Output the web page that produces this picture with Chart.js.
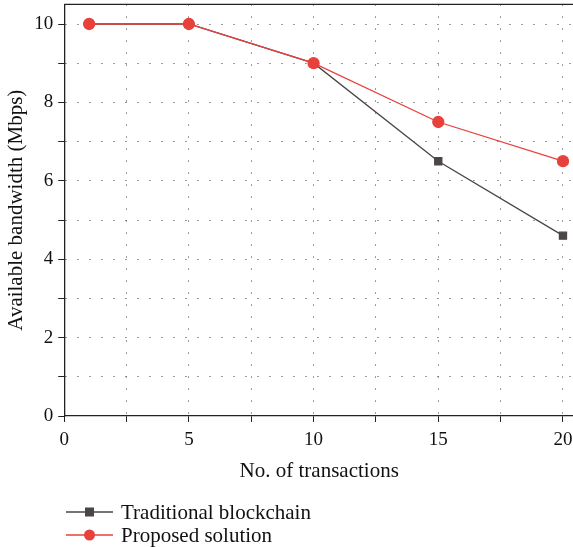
<!DOCTYPE html>
<html>
<head>
<meta charset="utf-8">
<script src="https://cdn.jsdelivr.net/npm/chart.js@4/dist/chart.umd.min.js"></script>
<style>
  html, body { margin: 0; padding: 0; background: #fff; overflow: hidden; }
  #wrap { width: 581px; height: 559px; position: relative; margin-top: -12px; }
</style>
</head>
<body>
<div id="wrap"><canvas id="chart"></canvas></div>
<script>
// data
var transactions = [1, 5, 10, 15, 20];
var traditional = [10, 10, 9, 6.5, 4.6];
var proposed = [10, 10, 9, 7.5, 6.5];
var seriesNames = ["Traditional blockchain", "Proposed solution"];
var xTickLabels = [0, 5, 10, 15, 20];
var yTickLabels = [0, 2, 4, 6, 8, 10];

var serif = "'Liberation Serif', 'DejaVu Serif', serif";
var grey = "#4a4546";
var red = "#e8413c";
var shiftY = 12; // canvas is pulled up by this much

function toPoints(ys) {
  return transactions.map(function (x, i) { return { x: x, y: ys[i] }; });
}

// box on top/right + legend drawn under the axes
var extras = {
  id: "extras",
  afterDraw: function (chart) {
    var ctx = chart.ctx;
    var a = chart.chartArea;
    ctx.save();
    ctx.strokeStyle = "#222";
    ctx.lineWidth = 1.3;
    ctx.beginPath();
    ctx.moveTo(a.left, a.top);
    ctx.lineTo(a.right, a.top);
    ctx.lineTo(a.right, a.bottom);
    ctx.stroke();

    // legend
    var items = [
      { ds: chart.data.datasets[1], y: 512 + shiftY },
      { ds: chart.data.datasets[0], y: 535 + shiftY }
    ];
    items.forEach(function (it) {
      var ds = it.ds;
      ctx.strokeStyle = ds.borderColor;
      ctx.lineWidth = 1.3;
      ctx.beginPath();
      ctx.moveTo(66, it.y);
      ctx.lineTo(113, it.y);
      ctx.stroke();
      ctx.fillStyle = ds.pointBackgroundColor;
      if (ds.pointStyle === "rect") {
        ctx.fillRect(89.5 - 4.5, it.y - 4.5, 9, 9);
      } else {
        ctx.beginPath();
        ctx.arc(89.5, it.y, 5.5, 0, Math.PI * 2);
        ctx.fill();
      }
      ctx.fillStyle = "#111";
      ctx.font = "21px " + serif;
      ctx.textBaseline = "middle";
      ctx.fillText(ds.label, 121, it.y + 1);
    });
    ctx.restore();
  }
};

var ctx = document.getElementById("chart").getContext("2d");
var chart = new Chart(ctx, {
  type: "line",
  data: {
    datasets: [
      {
        label: seriesNames[1],
        data: toPoints(proposed),
        borderColor: red,
        backgroundColor: red,
        pointBackgroundColor: red,
        pointBorderColor: red,
        pointStyle: "circle",
        pointRadius: 5.5,
        borderWidth: 1.3,
        order: 1
      },
      {
        label: seriesNames[0],
        data: toPoints(traditional),
        borderColor: grey,
        backgroundColor: grey,
        pointBackgroundColor: grey,
        pointBorderColor: grey,
        pointStyle: "rect",
        pointRadius: 5,
        borderWidth: 1.3,
        order: 2
      }
    ]
  },
  options: {
    responsive: true,
    maintainAspectRatio: false,
    animation: false,
    layout: { padding: { top: 0, right: 0, bottom: 63, left: 4 } },
    plugins: {
      legend: { display: false },
      tooltip: { enabled: false }
    },
    scales: {
      x: {
        type: "linear",
        min: 0,
        max: 20.45,
        afterBuildTicks: function (scale) {
          var t = [];
          for (var v = 0; v <= 20; v += 2.5) t.push({ value: v });
          scale.ticks = t;
        },
        ticks: {
          autoSkip: false,
          maxRotation: 0,
          color: "#111",
          padding: 7,
          font: { family: serif, size: 19 },
          callback: function (v) { return xTickLabels.indexOf(v) >= 0 ? String(v) : ""; }
        },
        grid: {
          color: function (c) { return c.tick && c.tick.value === 0 ? "rgba(0,0,0,0)" : "#666"; },
          tickColor: "#222",
          tickLength: 6,
          tickBorderDash: []
        },
        border: { color: "#222", width: 1.3, dash: [1.3, 10.7] },
        title: {
          display: true,
          text: "No. of transactions",
          color: "#111",
          font: { family: serif, size: 21 },
          padding: { top: 0, bottom: 0 }
        }
      },
      y: {
        min: 0,
        max: 10.5,
        afterBuildTicks: function (scale) {
          var t = [];
          for (var v = 0; v <= 10; v += 1) t.push({ value: v });
          scale.ticks = t;
        },
        ticks: {
          autoSkip: false,
          color: "#111",
          padding: 5,
          font: { family: serif, size: 19 },
          callback: function (v) { return yTickLabels.indexOf(v) >= 0 ? String(v) : ""; }
        },
        grid: {
          color: function (c) { return c.tick && c.tick.value === 0 ? "rgba(0,0,0,0)" : "#666"; },
          tickColor: "#222",
          tickLength: 6,
          tickBorderDash: []
        },
        border: { color: "#222", width: 1.3, dash: [1.3, 10.7] },
        title: {
          display: true,
          text: "Available bandwidth (Mbps)",
          color: "#111",
          font: { family: serif, size: 21 },
          padding: { top: 0, bottom: 0 }
        }
      }
    }
  },
  plugins: [extras]
});
</script>
</body>
</html>
